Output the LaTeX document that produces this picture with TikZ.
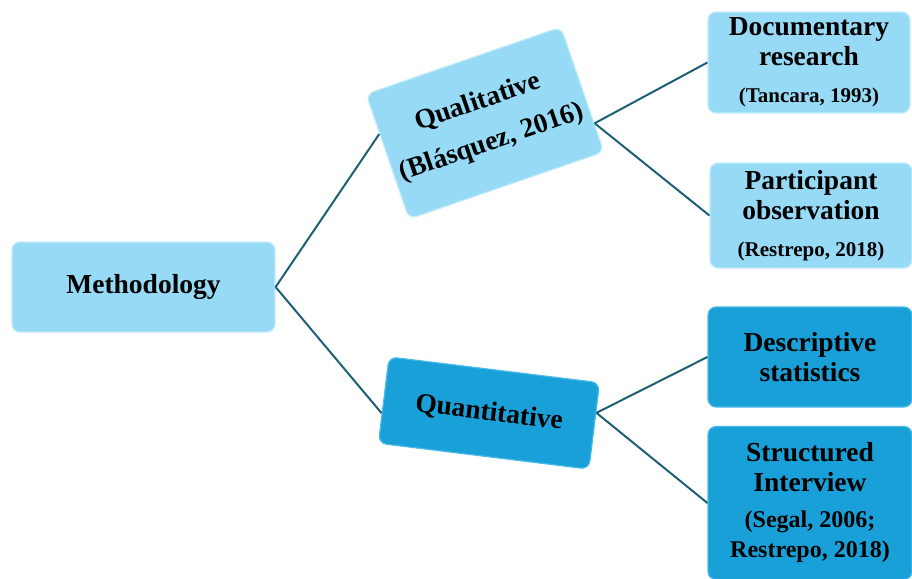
\documentclass[tikz,border=0pt]{standalone}
\usepackage{fontspec}
\setmainfont{Liberation Serif}
\usetikzlibrary{calc}

\definecolor{lightfill}{HTML}{96DAF6}
\definecolor{lightedge}{HTML}{C2EBFB}
\definecolor{darkfill}{HTML}{1AA0D8}
\definecolor{darkedge}{HTML}{4CBAE8}
\definecolor{linkcol}{HTML}{1E5F78}

\newcommand{\reffont}{\fontsize{10.5}{12}\selectfont}
\newcommand{\bigreffont}{\fontsize{12}{13}\selectfont}

\begin{document}
\begin{tikzpicture}[x=0.5pt,y=-0.5pt,
    box/.style={rounded corners=4pt, inner sep=0pt, align=center,
        font=\bfseries\fontsize{13.75}{15}\selectfont, line width=0.6pt},
    lightbox/.style={box, fill=lightfill, draw=lightedge},
    darkbox/.style={box, fill=darkfill, draw=darkedge},
    link/.style={draw=linkcol, line width=1pt}]

    \useasboundingbox (0,0) rectangle (912,579);

    \node[lightbox, minimum width=131.5pt, minimum height=45pt] (meth) at (143.5,287) {Methodology};

    \node[lightbox, rotate=19, minimum width=103pt, minimum height=66pt] (qual) at (485,123)
        {Qualitative\\[6pt](Blásquez, 2016)};
    \node[darkbox, rotate=-7, minimum width=106pt, minimum height=43.5pt] (quant) at (489,413) {Quantitative};

    \node[lightbox, minimum width=101pt, minimum height=50.5pt] (doc) at (809,62.5)
        {Documentary\\research\\[3.5pt]{\reffont (Tancara, 1993)}};
    \node[lightbox, minimum width=101pt, minimum height=52.5pt] (part) at (811,215.5)
        {Participant\\observation\\[3.5pt]{\reffont (Restrepo, 2018)}};
    \node[darkbox, minimum width=102pt, minimum height=50pt] (desc) at (810,357)
        {Descriptive\\statistics};
    \node[darkbox, minimum width=102pt, minimum height=76.5pt] (struct) at (810,503)
        {Structured\\Interview\\[3pt]{\bigreffont (Segal, 2006;}\\{\bigreffont Restrepo, 2018)}};

    \draw[link] (meth.east) -- ($(qual.north west)!0.32!(qual.south west)$);
    \draw[link] (meth.east) -- ($(quant.north west)!0.65!(quant.south west)$);
    \draw[link] ($(qual.north east)!0.77!(qual.south east)$) -- (doc.west);
    \draw[link] ($(qual.north east)!0.77!(qual.south east)$) -- (part.west);
    \draw[link] ($(quant.north east)!0.35!(quant.south east)$) -- (desc.west);
    \draw[link] ($(quant.north east)!0.35!(quant.south east)$) -- (struct.west);
\end{tikzpicture}
\end{document}
